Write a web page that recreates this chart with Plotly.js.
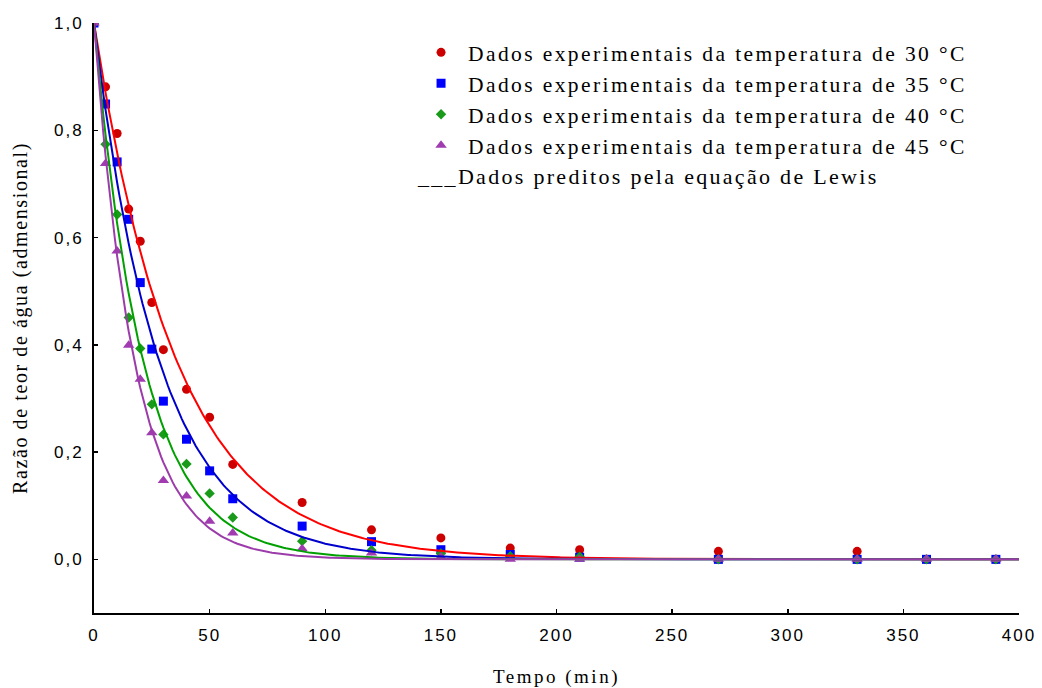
<!DOCTYPE html>
<html>
<head>
<meta charset="utf-8">
<script src="https://cdn.plot.ly/plotly-3.0.1.min.js"></script>
<style>
  html, body { margin: 0; padding: 0; background: #fff; }
  .legendtext { letter-spacing: 2.4px; }
  .annotation-text { letter-spacing: 2.3px; }
  .xtitle { letter-spacing: 2.5px; }
  .ytitle { letter-spacing: 1.6px; }
  .xtick text, .ytick text { letter-spacing: 2px; }
</style>
</head>
<body>
<div id="chart" style="width:1042px;height:688px"></div>
<script>
// Drying time (min)
const tempo = [0, 5, 10, 15, 20, 25, 30, 40, 50, 60, 90, 120, 150, 180, 210, 270, 330, 360, 390];

// Moisture ratio measured at each temperature
const razao30 = [1.000, 0.881, 0.794, 0.653, 0.593, 0.479, 0.391, 0.317, 0.265, 0.177, 0.106, 0.055, 0.040, 0.021, 0.018, 0.015, 0.015, 0.000, 0.000];
const razao35 = [1.000, 0.849, 0.741, 0.634, 0.516, 0.392, 0.295, 0.224, 0.165, 0.113, 0.062, 0.033, 0.018, 0.009, 0.004, 0.000, 0.000, 0.000, 0.000];
const razao40 = [1.000, 0.774, 0.643, 0.451, 0.393, 0.289, 0.233, 0.178, 0.123, 0.078, 0.034, 0.017, 0.011, 0.006, 0.005, 0.000, 0.000, 0.000, 0.000];
const razao45 = [1.000, 0.738, 0.575, 0.399, 0.336, 0.236, 0.147, 0.118, 0.071, 0.049, 0.020, 0.012, 0.005, 0.000, 0.000, 0.000, 0.000, 0.000, 0.000];

// Lewis model drying constants k (1/min): MR = exp(-k t)
const kLewis = [0.0278, 0.0353, 0.0468, 0.0570];

const temperaturas = ['30', '35', '40', '45'];
const corMarcador = ['#cc0000', '#0000ff', '#1a9a1a', '#a03cb0'];
const corLinha = ['#ff0000', '#0000cc', '#00a000', '#9c3caa'];
const simbolos = ['circle', 'square', 'diamond', 'triangle-up'];
const tamanhos = [9, 9, 8, 10];
const series = [razao30, razao35, razao40, razao45];

const serif = "'Liberation Serif', 'Times New Roman', serif";
const sans = "'Liberation Sans', Arial, sans-serif";

const traces = [];
series.forEach((ys, i) => {
  traces.push({
    type: 'scatter', mode: 'markers',
    x: tempo, y: ys,
    name: 'Dados experimentais da temperatura de ' + temperaturas[i] + ' °C',
    marker: { symbol: simbolos[i], size: tamanhos[i], color: corMarcador[i], line: { width: 0 } },
    showlegend: true
  });
});

// Predicted curves from the Lewis equation
const tModelo = [];
for (let t = 0; t <= 400; t += 1) tModelo.push(t);
kLewis.forEach((k, i) => {
  traces.push({
    type: 'scatter', mode: 'lines',
    x: tModelo, y: tModelo.map(t => Math.exp(-k * t)),
    line: { color: corLinha[i], width: 2 },
    showlegend: false, hoverinfo: 'skip'
  });
});

const layout = {
  width: 1042, height: 688,
  margin: { l: 94, r: 23, t: 23, b: 75 },
  paper_bgcolor: '#fff', plot_bgcolor: '#fff',
  separators: ',.',
  showlegend: true,
  legend: {
    x: 0.346, y: 0.985, xanchor: 'left', yanchor: 'top',
    bgcolor: 'rgba(0,0,0,0)',
    font: { family: serif, size: 21.5, color: '#000' },
    itemwidth: 44
  },
  xaxis: {
    range: [0, 400], tick0: 0, dtick: 50,
    showgrid: false, zeroline: false,
    showline: true, linecolor: '#000', linewidth: 2,
    ticks: 'inside', ticklen: 4, tickwidth: 1.5, tickcolor: '#000',
    tickfont: { family: sans, size: 17, color: '#000' },
    ticklabelstandoff: 6,
    title: { text: 'Tempo (min)', font: { family: serif, size: 19, color: '#000' }, standoff: 26 }
  },
  yaxis: {
    range: [-0.1, 1.0], tick0: 0, dtick: 0.2, tickformat: '.1f',
    showgrid: false, zeroline: false,
    showline: true, linecolor: '#000', linewidth: 2,
    ticks: 'inside', ticklen: 4, tickwidth: 1.5, tickcolor: '#000',
    tickfont: { family: sans, size: 17, color: '#000' },
    ticklabelstandoff: 5,
    title: { text: 'Razão de teor de água (admensional)', font: { family: serif, size: 20, color: '#000' }, standoff: 21 }
  },
  annotations: [{
    xref: 'paper', yref: 'paper', x: 0.3467, y: 0.739,
    xanchor: 'left', yanchor: 'middle', showarrow: false,
    text: '___Dados preditos pela equação de Lewis',
    font: { family: serif, size: 22, color: '#000' }
  }]
};

Plotly.newPlot('chart', traces, layout, { displayModeBar: false, staticPlot: true });
</script>
</body>
</html>
